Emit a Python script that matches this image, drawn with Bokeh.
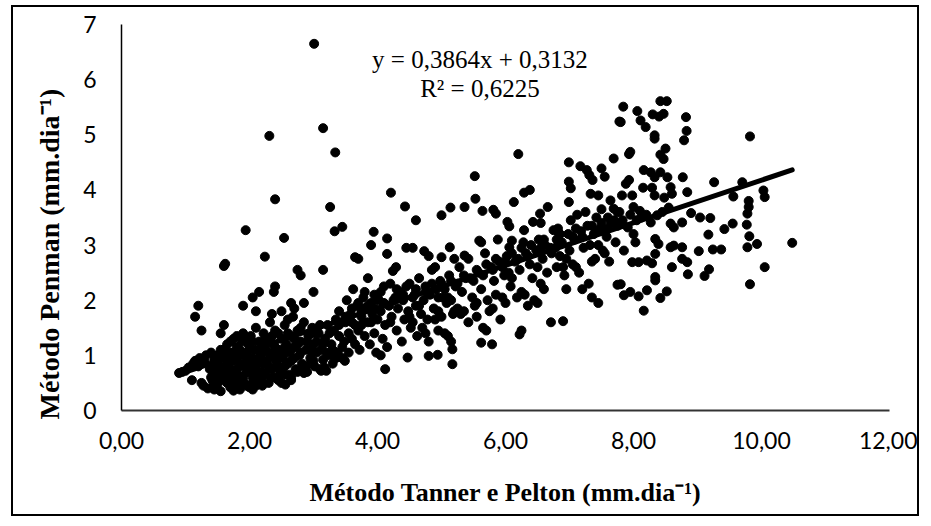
import math
from bokeh.plotting import figure
from bokeh.models import Range1d, FixedTicker, Label, ColumnDataSource, Title
from bokeh.embed import file_html
from bokeh.resources import INLINE

# ---------------- data ----------------
x_ticks = [0, 2, 4, 6, 8, 10, 12]
x_tick_labels = ["0,00", "2,00", "4,00", "6,00", "8,00", "10,00", "12,00"]
y_ticks = [0, 1, 2, 3, 4, 5, 6, 7]
y_tick_labels = ["0", "1", "2", "3", "4", "5", "6", "7"]

slope = 0.3864
intercept = 0.3132
r2 = 0.6225

x_title = "Método Tanner e Pelton (mm.dia⁻¹)"
y_title = "Método  Penman  (mm.dia⁻¹)"

# observed pairs (Tanner e Pelton, Penman), grouped by region
cluster_left = [
    (0.90, 0.68), (0.95, 0.70), (1.00, 0.72), (1.05, 0.78), (1.10, 0.55), (1.12, 0.85), (1.15, 0.90),
    (1.20, 0.80), (1.22, 0.95), (1.25, 0.50), (1.28, 0.45), (1.30, 0.88), (1.32, 1.00), (1.35, 0.40),
    (1.38, 0.75), (1.40, 1.05), (1.42, 0.55), (1.45, 0.38), (1.45, 0.92), (1.48, 0.65), (1.50, 1.00),
    (1.50, 0.48), (1.52, 0.80), (1.55, 1.10), (1.55, 1.40), (1.58, 0.60), (1.60, 0.95), (1.60, 1.55),
    (1.62, 0.72), (1.65, 0.50), (1.65, 1.20), (1.68, 0.85), (1.70, 1.05), (1.70, 0.42), (1.72, 0.65),
    (1.75, 1.30), (1.75, 0.90), (1.78, 0.55), (1.80, 1.15), (1.80, 0.75), (1.82, 1.00), (1.85, 0.38),
    (1.85, 0.62), (1.88, 1.25), (1.90, 0.85), (1.90, 1.40), (1.92, 0.50), (1.95, 1.05), (1.95, 0.70),
    (1.98, 1.20), (2.00, 0.95), (2.00, 0.42), (2.02, 1.35), (2.05, 0.60), (2.05, 0.80), (2.08, 1.10),
    (2.10, 0.45), (2.10, 1.50), (2.12, 0.72), (2.15, 0.95), (2.15, 1.25), (2.18, 0.55), (2.20, 1.05),
    (2.20, 0.85), (2.22, 1.40), (2.25, 0.65), (2.25, 1.15), (2.28, 0.90), (2.30, 1.30), (2.30, 0.50),
    (2.32, 1.60), (2.35, 1.00), (2.35, 0.75), (2.38, 1.20), (2.40, 0.60), (2.40, 1.45), (2.42, 0.88),
    (2.45, 1.10), (2.48, 0.70), (2.50, 0.50), (2.50, 1.30), (2.52, 0.95), (2.55, 1.55), (2.55, 0.80),
    (2.58, 1.20), (2.60, 1.05), (2.62, 0.65), (2.65, 1.35), (2.65, 0.90), (2.68, 1.70), (2.70, 1.15),
    (2.72, 0.75), (2.75, 1.45), (2.78, 1.00), (2.80, 1.25), (2.82, 0.85), (2.85, 1.60), (2.88, 1.10),
    (2.90, 0.70), (2.92, 1.35), (2.95, 0.95), (2.98, 1.50), (3.00, 1.20), (3.02, 0.80), (3.05, 1.05),
    (3.08, 1.40), (3.10, 0.75), (3.12, 1.10), (3.15, 0.92), (3.18, 1.30), (3.20, 0.72), (3.22, 1.55),
    (3.25, 1.00), (3.28, 1.20), (3.30, 0.85), (3.32, 1.45), (3.35, 1.65), (3.38, 1.05),
    (1.40, 0.60), (1.40, 0.80), (1.50, 0.70), (1.50, 0.90), (1.55, 0.55), (1.60, 0.80), (1.60, 1.10),
    (1.65, 0.65), (1.65, 0.95), (1.70, 0.55), (1.70, 0.75), (1.70, 1.25), (1.75, 0.60), (1.75, 1.05),
    (1.80, 0.50), (1.80, 0.95), (1.80, 1.35), (1.85, 0.80), (1.85, 1.10), (1.90, 0.60), (1.90, 1.00),
    (1.95, 0.45), (1.95, 0.85), (1.95, 1.30), (2.00, 0.70), (2.00, 1.10), (2.05, 0.50), (2.05, 0.95),
    (2.05, 1.25), (2.10, 0.65), (2.10, 0.85), (2.15, 0.55), (2.15, 1.10), (2.20, 0.70), (2.20, 0.45),
    (2.25, 0.90), (2.25, 1.30), (2.30, 0.80), (2.30, 1.05), (2.35, 0.60), (2.35, 1.35), (2.40, 0.95),
    (2.40, 1.15), (2.45, 0.55), (2.45, 0.80), (2.45, 1.40), (2.50, 1.00), (2.55, 0.65), (2.55, 1.15),
    (2.60, 0.85), (2.60, 1.40), (2.65, 0.55), (2.65, 1.10), (2.70, 0.95), (2.70, 1.30), (2.75, 0.70),
    (2.75, 1.20), (2.80, 1.05), (2.80, 1.50), (2.85, 0.80), (2.90, 1.25), (2.95, 1.10), (3.00, 0.90),
    (3.00, 1.40), (3.05, 1.25), (3.10, 1.55), (3.15, 1.20), (3.20, 1.05), (3.25, 1.40), (3.30, 1.10),
    (3.35, 0.95), (3.40, 1.35), (3.40, 1.55), (3.45, 1.15), (3.55, 1.05), (3.60, 1.60), (3.65, 1.20),
    (3.75, 1.55), (3.80, 1.85), (3.90, 1.60),
    (2.56, 0.47), (2.05, 0.38), (1.75, 0.36), (1.55, 0.35), (1.42, 0.42), (2.65, 0.60), (2.85, 0.68),
    (2.89, 0.81), (2.80, 0.72), (3.12, 0.72), (3.17, 0.78), (3.49, 0.90),
]

upper_left = [
    (1.20, 1.90), (1.15, 1.70), (1.25, 1.45), (1.60, 2.62), (1.62, 2.66), (1.90, 1.90), (1.94, 3.27),
    (2.05, 2.05), (2.10, 1.80), (2.15, 2.15), (2.24, 2.79), (2.35, 1.75), (2.40, 2.25), (2.38, 2.15),
    (2.31, 4.98), (2.40, 3.83), (2.54, 3.13), (2.65, 1.95), (2.75, 2.55), (2.80, 2.45), (3.01, 6.65),
    (3.00, 2.15), (3.15, 2.55), (3.15, 5.12), (3.34, 4.68), (3.26, 3.69), (3.33, 3.25), (3.45, 3.33),
    (2.70, 1.85), (2.85, 1.95), (2.50, 1.80), (2.60, 1.65),
]

band_3_5 = [
    (3.40, 1.80), (3.45, 0.95), (3.48, 1.25), (3.50, 1.60), (3.52, 2.00), (3.55, 1.40), (3.58, 1.75),
    (3.60, 1.30), (3.62, 2.20), (3.65, 1.55), (3.65, 2.78), (3.68, 1.90), (3.70, 2.75), (3.70, 1.45),
    (3.72, 1.10), (3.75, 1.70), (3.78, 2.05), (3.80, 2.15), (3.80, 1.35), (3.82, 1.85), (3.85, 2.40),
    (3.85, 1.60), (3.88, 1.20), (3.94, 3.24), (3.90, 3.00), (3.90, 1.95), (3.92, 1.75), (3.95, 1.40),
    (3.95, 2.10), (3.98, 1.05), (4.00, 1.65), (4.02, 2.00), (4.05, 1.00), (4.05, 1.80), (4.08, 1.30),
    (4.12, 0.75), (4.10, 2.25), (4.12, 1.55), (4.15, 1.15), (4.15, 3.12), (4.18, 1.90), (4.20, 1.60),
    (4.20, 2.30), (4.24, 2.53), (4.21, 3.95), (4.22, 1.70), (4.29, 2.60), (4.28, 2.05), (4.30, 1.45),
    (4.32, 1.85), (4.35, 2.15), (4.38, 1.25), (4.43, 3.70), (4.40, 2.00), (4.42, 1.65), (4.47, 0.96),
    (4.45, 2.95), (4.48, 1.80), (4.50, 1.70), (4.50, 2.30), (4.52, 1.50), (4.55, 1.60), (4.55, 2.95),
    (4.58, 2.10), (4.60, 3.45), (4.60, 1.90), (4.62, 1.35), (4.65, 2.40), (4.68, 1.75), (4.70, 1.50),
    (4.80, 0.99), (4.73, 2.89), (4.72, 2.00), (4.75, 1.40), (4.75, 2.25), (4.78, 1.65), (4.80, 2.80),
    (4.80, 1.25), (4.82, 2.10), (4.94, 1.01), (4.85, 2.55), (4.88, 1.85), (4.90, 2.60), (4.90, 1.65),
    (4.92, 2.20), (4.95, 1.80), (4.95, 1.45), (4.98, 2.35), (5.00, 3.54), (5.00, 1.70), (5.02, 2.05),
    (4.15, 2.84), (5.00, 2.78),
]

band_5_7 = [
    (5.05, 1.40), (5.17, 1.11), (5.17, 0.84), (5.08, 1.95), (5.10, 1.35), (5.10, 2.05), (5.12, 2.45),
    (5.15, 1.25), (5.15, 2.00), (5.18, 1.75), (5.20, 1.80), (5.20, 2.75), (5.14, 3.68), (5.22, 2.25),
    (5.25, 1.85), (5.28, 2.60), (5.30, 1.75), (5.36, 3.69), (5.32, 2.15), (5.35, 1.80), (5.38, 2.40),
    (5.36, 2.81), (5.42, 1.60), (5.42, 2.75), (5.52, 4.25), (5.48, 2.05), (5.50, 2.35), (5.53, 3.84),
    (5.52, 1.90), (5.55, 1.70), (5.55, 1.95), (5.58, 2.50), (5.62, 1.23), (5.62, 2.20), (5.65, 1.50),
    (5.64, 3.62), (5.68, 2.85), (5.70, 1.45), (5.72, 2.00), (5.79, 1.20), (5.75, 1.80), (5.81, 3.64),
    (5.78, 2.60), (5.80, 1.85), (5.82, 2.35), (5.85, 2.10), (5.88, 3.10), (5.90, 2.70), (5.92, 1.65),
    (5.95, 2.05), (5.98, 2.45), (6.00, 1.95), (6.03, 3.42), (6.02, 2.80), (6.06, 3.34), (6.13, 3.78),
    (6.05, 2.50), (6.08, 2.25), (6.10, 2.40), (6.10, 3.08), (6.20, 4.65), (6.15, 2.70), (6.18, 2.05),
    (6.22, 1.38), (6.25, 1.45), (6.29, 3.95), (6.22, 2.55), (6.25, 2.15), (6.28, 3.05), (6.30, 2.10),
    (6.38, 4.00), (6.32, 2.85), (6.35, 1.90), (6.38, 2.65), (6.29, 3.27), (6.42, 2.40), (6.45, 2.00),
    (6.43, 3.42), (6.48, 2.90), (6.50, 1.95), (6.50, 2.60), (6.54, 3.57), (6.52, 3.10), (6.55, 2.30),
    (6.55, 3.40), (6.58, 2.75), (6.71, 1.60), (6.60, 2.20), (6.62, 3.00), (6.65, 2.50), (6.66, 3.69),
    (6.72, 2.85), (6.90, 1.62), (6.75, 3.27), (6.78, 2.95), (6.80, 2.60), (6.82, 3.30), (6.85, 2.80),
    (6.88, 3.05), (6.90, 2.60), (6.99, 3.78), (6.92, 2.45), (6.95, 2.20), (6.95, 2.75), (6.99, 4.50),
    (6.99, 4.15), (6.98, 3.20), (7.02, 4.03), (7.00, 2.90), (5.13, 2.96), (5.59, 3.08), (5.62, 3.05),
    (5.85, 3.57), (6.06, 2.96),
]

band_7_8 = [
    (7.02, 3.45), (7.05, 2.65), (7.08, 3.10), (7.10, 2.60), (7.12, 3.55), (7.15, 2.50), (7.17, 4.43),
    (7.18, 3.25), (7.20, 2.20), (7.27, 4.36), (7.22, 2.95), (7.31, 4.27), (7.25, 3.60), (7.28, 3.35),
    (7.30, 2.30), (7.33, 3.93), (7.36, 4.18), (7.32, 3.00), (7.35, 2.05), (7.35, 2.70), (7.38, 3.20),
    (7.40, 2.75), (7.45, 3.90), (7.42, 3.50), (7.45, 1.95), (7.45, 3.00), (7.50, 4.39), (7.48, 3.30),
    (7.50, 3.65), (7.52, 2.90), (7.55, 2.85), (7.55, 4.24), (7.58, 3.15), (7.60, 3.50), (7.62, 2.70),
    (7.65, 3.40), (7.64, 3.81), (7.69, 3.66), (7.69, 4.57), (7.72, 3.05), (7.75, 2.28), (7.75, 3.35),
    (7.78, 3.60), (7.78, 5.24), (7.95, 4.69),
]

band_right = [
    (10.48, 3.04), (9.82, 4.97), (10.05, 2.60), (9.82, 2.29), (10.03, 3.99), (10.05, 3.87), (9.80, 3.80),
    (9.80, 3.69), (9.78, 3.57), (9.77, 3.37), (9.70, 4.14), (9.56, 3.88), (9.55, 3.39), (9.42, 3.29),
    (9.81, 3.16), (9.78, 2.96), (9.93, 3.02), (9.26, 4.14), (9.17, 3.19), (9.02, 2.89), (9.24, 2.92),
    (9.37, 2.92), (9.18, 2.56), (9.11, 2.44), (9.20, 3.49), (9.04, 3.50), (8.90, 3.58), (8.84, 3.96),
    (8.77, 4.23), (8.82, 5.32), (8.83, 5.07), (8.79, 4.90), (8.42, 5.61), (8.52, 5.61), (8.47, 5.38),
    (8.40, 5.33), (8.30, 5.37), (8.06, 5.43), (7.84, 5.51), (8.11, 5.26), (8.19, 5.14), (8.33, 4.99),
    (8.33, 4.93), (8.50, 4.75), (8.42, 4.64), (8.47, 4.56), (7.93, 4.65), (7.80, 5.23), (8.53, 4.23),
    (8.58, 4.05), (8.60, 3.93), (8.16, 4.36), (8.27, 4.32), (8.33, 4.23), (8.42, 4.32), (7.93, 4.18),
    (7.88, 4.11), (8.15, 4.04), (8.29, 4.04), (8.33, 3.90), (8.48, 3.86), (7.98, 3.90), (8.00, 3.69),
    (7.82, 3.90), (7.83, 3.45), (7.91, 3.32), (8.00, 3.20), (8.27, 3.41), (8.37, 3.54), (8.58, 3.39),
    (8.63, 3.32), (8.76, 3.41), (8.03, 3.05), (8.34, 3.11), (8.39, 3.02), (7.85, 2.90), (7.98, 2.69),
    (8.08, 2.69), (8.21, 2.72), (8.29, 2.67), (8.34, 2.84), (8.58, 2.96), (8.63, 2.99), (8.76, 2.96),
    (8.60, 2.60), (8.76, 2.75), (8.84, 2.69), (8.85, 2.47), (8.34, 2.36), (8.34, 2.42), (7.80, 2.29),
    (7.85, 2.09), (7.95, 2.15), (8.08, 2.07), (8.21, 2.18), (8.42, 2.04), (8.52, 2.16), (8.16, 1.81),
    (8.05, 3.45), (8.12, 3.50), (8.20, 3.55), (8.45, 3.60), (8.55, 3.68), (8.10, 3.62), (7.95, 3.55),
]

line_fill = [
    (3.50, 1.70), (3.60, 1.85), (3.70, 1.95), (3.75, 1.80), (3.85, 1.90), (3.95, 1.85), (4.00, 2.05),
    (4.05, 2.15), (4.10, 1.95), (4.25, 2.00), (4.30, 2.20), (4.40, 2.10), (4.45, 2.25), (4.55, 2.05),
    (4.60, 2.20), (4.65, 1.90), (4.75, 2.15), (4.85, 2.30), (4.95, 2.05), (5.00, 2.30), (5.05, 2.20),
    (5.15, 2.35), (5.25, 2.30), (5.35, 2.45), (5.45, 2.40), (5.55, 2.55), (5.65, 2.45), (5.70, 2.65),
    (5.80, 2.55), (5.85, 2.75), (5.95, 2.60), (6.00, 2.70), (6.10, 2.85), (6.20, 2.75), (6.25, 2.95),
    (6.35, 2.80), (6.40, 3.00), (6.55, 2.95), (6.60, 3.10), (6.70, 2.95), (6.80, 3.10), (6.85, 3.20),
    (7.05, 3.15), (7.10, 3.30), (7.20, 3.15), (7.35, 3.35), (7.45, 3.25), (7.50, 3.40), (7.60, 3.30),
    (7.70, 3.45), (7.75, 3.60),
]

pairs = cluster_left + upper_left + band_3_5 + band_5_7 + band_7_8 + band_right + line_fill
tanner = [a for a, b in pairs]
penman = [b for a, b in pairs]

# ---------------- figure ----------------
W, H = 908, 511
p = figure(width=W, height=H, output_backend="svg", toolbar_location=None,
           x_range=Range1d(0, 12), y_range=Range1d(0, 7),
           min_border_left=108, min_border_right=32, min_border_top=17, min_border_bottom=108)
p.styles = {"border": "2px solid black", "margin-left": "11px", "margin-top": "5px"}
p.background_fill_color = "white"
p.border_fill_color = "white"
p.outline_line_color = None
p.xgrid.grid_line_color = None
p.ygrid.grid_line_color = None

tick_font = "Lato"
for ax in (p.xaxis[0], p.yaxis[0]):
    ax.major_tick_line_color = None
    ax.minor_tick_line_color = None
    ax.major_tick_out = 0
    ax.major_tick_in = 0
    ax.major_label_text_font = tick_font
    ax.major_label_text_font_size = "23px"
    ax.major_label_text_color = "black"

p.xaxis.ticker = FixedTicker(ticks=x_ticks)
p.xaxis.major_label_overrides = {t: s for t, s in zip(x_ticks, x_tick_labels)}
p.xaxis.axis_line_color = "#333333"
p.xaxis.axis_line_width = 2
p.xaxis.major_label_standoff = 21
p.xaxis.axis_label = x_title
p.xaxis.axis_label_text_font = "Liberation Serif"
p.xaxis.axis_label_text_font_style = "bold"
p.xaxis.axis_label_text_font_size = "26px"
p.xaxis.axis_label_text_color = "black"
p.xaxis.axis_label_standoff = 26

p.yaxis.ticker = FixedTicker(ticks=y_ticks)
p.yaxis.major_label_overrides = {t: s for t, s in zip(y_ticks, y_tick_labels)}
p.yaxis.axis_line_color = "black"
p.yaxis.axis_line_width = 1.5
p.yaxis.major_label_standoff = 25

src = ColumnDataSource(dict(x=tanner, y=penman))
p.scatter("x", "y", source=src, size=9, fill_color="black", line_color="black")

x0, x1 = min(tanner), max(tanner)
p.line([x0, x1], [slope * x0 + intercept, slope * x1 + intercept],
       line_color="black", line_width=5, line_cap="round")

eq1 = "y = " + f"{slope:.4f}".replace(".", ",") + "x + " + f"{intercept:.4f}".replace(".", ",")
eq2 = "R² = " + f"{r2:.4f}".replace(".", ",")
for txt, yy in ((eq1, 6.37), (eq2, 5.84)):
    p.add_layout(Label(x=5.6, y=yy, text=txt, text_font="Liberation Serif",
                       text_font_size="25px", text_align="center", text_baseline="middle",
                       text_color="black"))

ytitle = Title(text=y_title, align="left", offset=-9, standoff=32,
               text_font="Liberation Serif", text_font_style="bold", text_font_size="28px",
               text_color="black")
p.add_layout(ytitle, "left")

open("out.html", "w").write(file_html(p, INLINE))
